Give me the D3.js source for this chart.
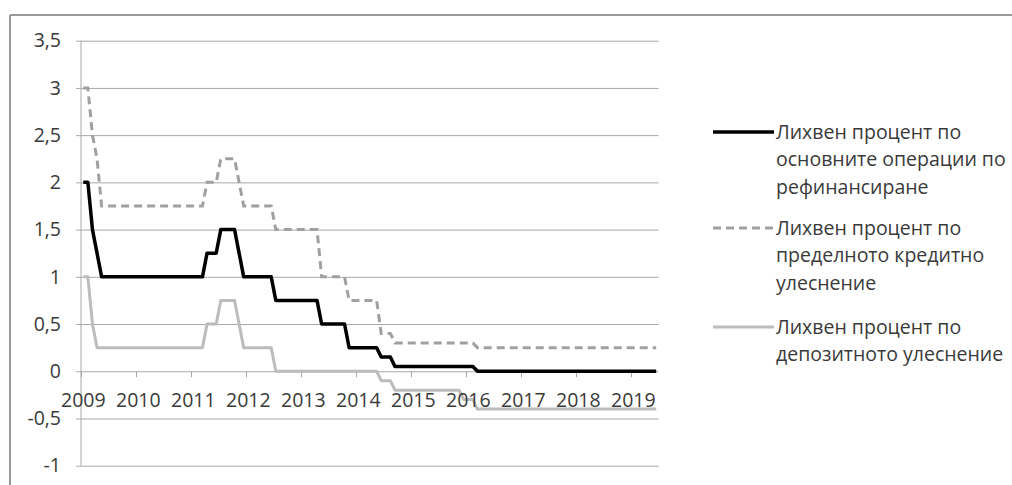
<!DOCTYPE html>
<html><head><meta charset="utf-8">
<script src="https://cdn.jsdelivr.net/npm/d3@7"></script>
<style>body{margin:0;background:#fff}svg{display:block}</style>
</head><body><svg id="c" width="1012" height="485"></svg>
<script>
// ---- data (vertices of each polyline, monthly dates) ----
const mroDates = ["2009-01","2009-02","2009-03","2009-04","2009-05","2011-03","2011-04","2011-06","2011-07","2011-10","2011-12","2012-06","2012-07","2013-04","2013-05","2013-10","2013-11","2014-05","2014-06","2014-08","2014-09","2016-02","2016-03","2019-06"];
const mroValues = [2.0,2.0,1.5,1.25,1.0,1.0,1.25,1.25,1.5,1.5,1.0,1.0,0.75,0.75,0.5,0.5,0.25,0.25,0.15,0.15,0.05,0.05,0,0];
const mlfDates = mroDates;
const mlfValues = [3.0,3.0,2.5,2.25,1.75,1.75,2.0,2.0,2.25,2.25,1.75,1.75,1.5,1.5,1.0,1.0,0.75,0.75,0.4,0.4,0.3,0.3,0.25,0.25];
const dfDates = ["2009-01","2009-02","2009-03","2009-04","2011-03","2011-04","2011-06","2011-07","2011-10","2011-12","2012-06","2012-07","2014-05","2014-06","2014-08","2014-09","2015-11","2015-12","2016-02","2016-03","2019-06"];
const dfValues = [1.0,1.0,0.5,0.25,0.25,0.5,0.5,0.75,0.75,0.25,0.25,0,0,-0.1,-0.1,-0.2,-0.2,-0.3,-0.3,-0.4,-0.4];
const yearLabels = ["2009","2010","2011","2012","2013","2014","2015","2016","2017","2018","2019"];
const yTicks = [3.5,3,2.5,2,1.5,1,0.5,0,-0.5,-1];
const seriesNames = [
  ["Лихвен процент по","основните операции по","рефинансиране"],
  ["Лихвен процент по","пределното кредитно","улеснение"],
  ["Лихвен процент по","депозитното улеснение"]
];

// ---- layout ----
const svg = d3.select("#c");
const font = "'Open Sans', 'Noto Sans', sans-serif";
const fs = 19.5;
const nMonths = 126;
const x = d3.scaleLinear().domain([0, nMonths]).range([81, 658.5]);
const y = d3.scaleLinear().domain([-1, 3.5]).range([465.7, 40.7]);
const monthIdx = s => { const [yy, mm] = s.split("-").map(Number); return (yy - 2009) * 12 + (mm - 1); };

// outer frame (top and left edges visible)
svg.append("line").attr("x1",10).attr("x2",1012).attr("y1",15).attr("y2",15).attr("stroke","#9a9a9a").attr("stroke-width",2);
svg.append("line").attr("x1",10).attr("x2",10).attr("y1",15).attr("y2",485).attr("stroke","#9a9a9a").attr("stroke-width",2);

// y axis with gridlines
const yAxis = d3.axisLeft(y).tickValues(yTicks).tickSize(-(658.5-76)).tickPadding(0)
  .tickFormat(d => String(d).replace(".", ","));
const gy = svg.append("g").attr("transform","translate(76,0)").call(yAxis);
gy.select(".domain").remove();
gy.selectAll(".tick line").attr("stroke","#a8a8a8").attr("stroke-width",1);
gy.selectAll(".tick text").attr("x",-15).attr("font-family",font).attr("font-size",fs).attr("fill","#3a3a3a").attr("text-anchor","end");

// vertical axis line
svg.append("line").attr("x1",81).attr("x2",81).attr("y1",y(3.5)).attr("y2",y(-1)).attr("stroke","#a8a8a8").attr("stroke-width",1);

// x axis ticks on zero line
const xTickIdx = yearLabels.map((d,i)=>i*12);
const xAxis = d3.axisBottom(x).tickValues(xTickIdx).tickSize(6).tickFormat("");
const gx = svg.append("g").attr("transform",`translate(0,${y(0)})`).call(xAxis);
gx.select(".domain").remove();
gx.selectAll(".tick line").attr("stroke","#a8a8a8");

// lines
const line = d3.line().x(d => x(monthIdx(d[0]) + 0.5)).y(d => y(d[1]));
const zip = (a,b) => a.map((d,i)=>[d,b[i]]);
svg.append("path").datum(zip(dfDates, dfValues)).attr("d", line).attr("fill","none")
  .attr("stroke","#bcbcbc").attr("stroke-width",3).attr("stroke-linejoin","round");
svg.append("path").datum(zip(mlfDates, mlfValues)).attr("d", line).attr("fill","none")
  .attr("stroke","#a0a0a0").attr("stroke-width",3).attr("stroke-dasharray","8,5");
svg.append("path").datum(zip(mroDates, mroValues)).attr("d", line).attr("fill","none")
  .attr("stroke","#000").attr("stroke-width",3.5).attr("stroke-linejoin","round");

// x labels
svg.append("g").selectAll("text").data(yearLabels).join("text")
  .attr("x",(d,i)=>x(i*12+0.5)).attr("y",407)
  .attr("text-anchor","middle").attr("font-family",font).attr("font-size",fs).attr("fill","#3a3a3a")
  .text(d=>d);

// legend
const legY = [132, 228, 327];
const legStyle = [
  {stroke:"#000", w:3.5, dash:null},
  {stroke:"#a0a0a0", w:3, dash:"8,5"},
  {stroke:"#bcbcbc", w:3, dash:null}
];
seriesNames.forEach((lines, i) => {
  const g = svg.append("g");
  g.append("line").attr("x1",713).attr("x2",774).attr("y1",legY[i]).attr("y2",legY[i])
    .attr("stroke",legStyle[i].stroke).attr("stroke-width",legStyle[i].w)
    .attr("stroke-dasharray",legStyle[i].dash);
  lines.forEach((t, j) => {
    g.append("text").attr("x",776).attr("y",legY[i] + j*27.5).attr("dy","0.35em")
      .attr("font-family",font).attr("font-size",fs).attr("fill","#3a3a3a").text(t);
  });
});
</script></body></html>
